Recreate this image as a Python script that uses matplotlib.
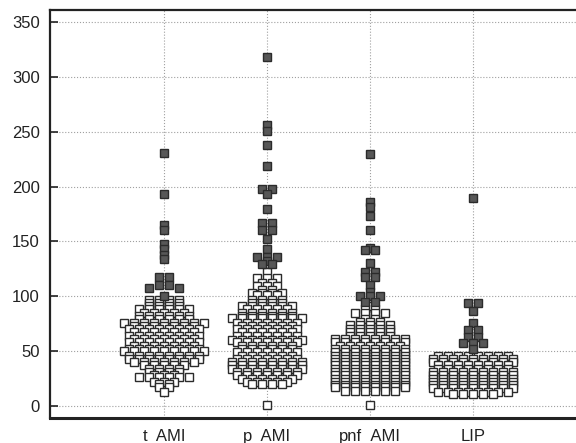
import matplotlib
matplotlib.use("Agg")
import matplotlib.pyplot as plt
import numpy as np

plt.rcParams["font.family"] = ["Liberation Sans", "DejaVu Sans"]

groups = ["t_AMI", "p_AMI", "pnf_AMI", "LIP"]

# open squares: value of each row and how many points it holds
t_ami_val = [13, 17, 20, 22, 26, 28, 31, 34, 37, 40, 43, 46, 50, 52, 55, 58, 61, 64,
             67, 70, 73, 76, 79, 82, 85, 88, 91, 94, 97]
t_ami_cnt = [1, 2, 2, 3, 6, 3, 4, 4, 5, 7, 8, 8, 9, 8, 7, 8, 7, 8,
             7, 8, 7, 9, 6, 6, 5, 6, 4, 4, 4]

p_ami_val = [1, 20, 22, 25, 28, 31, 34, 37, 40, 43, 46, 49, 52, 55, 58, 60, 64, 67,
             70, 73, 76, 80, 82, 85, 88, 91, 94, 97, 101, 103, 106, 109, 112, 117, 122]
p_ami_cnt = [1, 4, 5, 6, 7, 7, 8, 8, 8, 7, 6, 7, 6, 6, 7, 8, 7, 6,
             7, 6, 7, 8, 6, 6, 5, 6, 4, 4, 3, 4, 2, 3, 2, 3, 1]

pnf_ami_val = [1, 14, 17, 19, 22, 25, 28, 31, 34, 37, 40, 43, 46, 49, 52, 55, 58, 61,
               64, 67, 70, 74, 77, 79, 85, 88, 91]
pnf_ami_cnt = [1, 6, 8, 8, 8, 8, 8, 8, 8, 8, 8, 8, 8, 8, 8, 7, 8, 8,
               5, 5, 5, 5, 3, 2, 4, 2, 1]

lip_val = [11, 13, 16, 19, 22, 25, 28, 31, 34, 37, 40, 43, 46]
lip_cnt = [5, 8, 9, 9, 9, 9, 9, 9, 8, 8, 9, 9, 8]

# filled squares (high values)
t_ami_hi = [231, 193, 165, 160, 148, 143, 138, 134, 118, 118, 110, 110, 108, 108, 100]
p_ami_hi = [318, 256, 251, 238, 219, 198, 198, 193, 180, 167, 167, 160, 160, 152, 143,
            136, 136, 136, 132, 129, 129]
pnf_ami_hi = [230, 186, 181, 173, 160, 144, 142, 142, 130, 122, 122, 118, 118, 110, 104,
              100, 100, 100, 95, 95]
lip_hi = [190, 94, 94, 87, 76, 69, 69, 63, 63, 57, 57, 57, 52]

open_vals = [np.repeat(t_ami_val, t_ami_cnt), np.repeat(p_ami_val, p_ami_cnt),
             np.repeat(pnf_ami_val, pnf_ami_cnt), np.repeat(lip_val, lip_cnt)]
high_vals = [t_ami_hi, p_ami_hi, pnf_ami_hi, lip_hi]


def dot_x(values, filled, center, step, bin_h=3.0):
    """Spread points of the same value band symmetrically around the center."""
    values = np.asarray(values, float)
    x = np.full(len(values), float(center))
    bins = np.floor(values / bin_h).astype(int)
    for b in np.unique(bins):
        idx = np.where(bins == b)[0]
        # highest values take the middle slots
        idx = sorted(idx, key=lambda i: (-values[i], not filled[i]))
        n = len(idx)
        slots = sorted(np.arange(n) - (n - 1) / 2, key=lambda s: (abs(s), s))
        for i, s in zip(idx, slots):
            x[i] = center + s * step
    return x


fig = plt.figure(figsize=(5.76, 4.43), dpi=100)
ax = fig.add_axes([50 / 576, 25.5 / 443, 526 / 576, 407.5 / 443])
ax.set_xlim(-0.107, 5.0)
ax.set_ylim(-10.5, 361)

# slot spacing of 10 px expressed in category units
px0 = ax.transData.transform((0, 0))[0]
px1 = ax.transData.transform((1, 0))[0]
step = 10.0 / (px1 - px0)

edge = "#2b2b2b"
for k, (ov, hv) in enumerate(zip(open_vals, high_vals)):
    vals = np.concatenate([np.asarray(ov, float), np.asarray(hv, float)])
    filled = np.r_[np.zeros(len(ov), bool), np.ones(len(hv), bool)]
    xs = dot_x(vals, filled, k + 1, step)
    # open squares first, higher ones underneath
    order = np.argsort(-vals[~filled], kind="stable")
    ax.plot(xs[~filled][order], vals[~filled][order], ls="none", marker="s",
            ms=6.0, mew=1.0, mfc="white", mec=edge, zorder=3)
    order = np.argsort(-vals[filled], kind="stable")
    ax.plot(xs[filled][order], vals[filled][order], ls="none", marker="s",
            ms=6.0, mew=1.0, mfc="#575757", mec=edge, zorder=4)

ax.set_xticks([1, 2, 3, 4])
ax.set_xticklabels(groups)
ax.set_yticks(np.arange(0, 351, 50))
ax.grid(True, ls=":", color="#a0a0a0", lw=0.8)
ax.set_axisbelow(True)

ax.tick_params(axis="y", direction="in", length=6, width=1.2, pad=7.5,
               labelsize=12, color="#222222", labelcolor="#222222")
ax.tick_params(axis="x", length=0, pad=8.5, labelsize=12, labelcolor="#222222")

for side in ["left", "top"]:
    ax.spines[side].set_linewidth(1.6)
    ax.spines[side].set_color("#222222")
ax.spines["bottom"].set_linewidth(2.2)
ax.spines["bottom"].set_color("#222222")
ax.spines["right"].set_visible(False)

fig.savefig("out.png", dpi=100)
